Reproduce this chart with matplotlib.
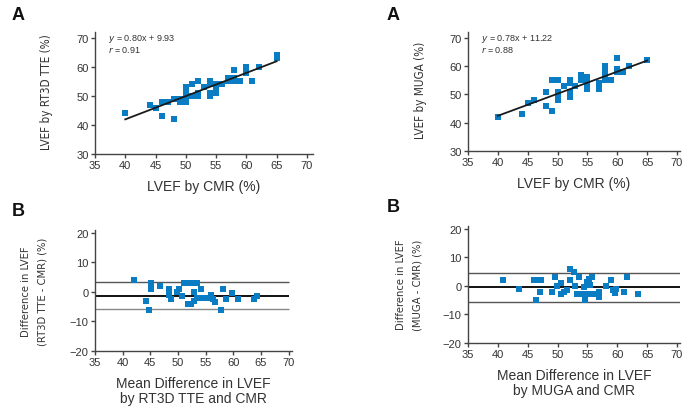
import matplotlib
matplotlib.use("Agg")
import matplotlib.pyplot as plt
from matplotlib import font_manager
from matplotlib.font_manager import FontProperties
import numpy as np

# ---------------- data ----------------
# Panel A (left): LVEF by CMR vs RT3D TTE
cmr_tte = [40, 44, 45, 46, 46, 47, 48, 48, 49, 49, 50, 50, 50, 50, 50, 50, 51, 51, 52, 52, 52,
           53, 54, 54, 54, 54, 55, 55, 55, 55, 56, 57, 57, 58, 58, 58, 59, 60, 60, 61, 62, 65, 65]
tte = [44, 47, 46, 48, 43, 48, 49, 42, 48, 49, 48, 49, 50, 51, 52, 53, 54, 50, 55, 50, 51,
       53, 55, 54, 50, 51, 51, 52, 53, 54, 54, 56, 55, 56, 55, 59, 55, 60, 58, 55, 60, 63, 64]
fit_tte = (0.80, 9.93)
r_tte = 0.91

# Panel A (right): LVEF by CMR vs MUGA
cmr_muga = [40, 44, 45, 46, 48, 48, 49, 49, 50, 50, 50, 50, 50, 51, 52, 52, 52, 52, 52, 53,
            54, 54, 54, 55, 55, 55, 55, 55, 57, 57, 58, 58, 58, 58, 58, 58, 59, 60, 60, 60, 61, 62, 65]
muga = [42, 43, 47, 48, 51, 46, 44, 55, 55, 51, 50, 49, 48, 53, 55, 54, 51, 50, 49, 53,
        57, 56, 55, 56, 55, 54, 53, 52, 54, 52, 60, 59, 58, 57, 56, 55, 55, 63, 59, 58, 58, 60, 62]
fit_muga = (0.78, 11.22)
r_muga = 0.88

# Panel B (left): Bland-Altman RT3D TTE vs CMR
ba_tte_mean = [42, 44.3, 44.8, 45.2, 45.2, 46.8, 48.3, 48.3, 48.7, 49.8, 50.2, 50.7, 51, 51.5, 52,
               52.5, 53, 53.5, 51.8, 52.3, 52.8, 52.8, 54.2, 53.5, 54, 54.5, 55, 55.5, 55.9, 56.4,
               56.6, 57.8, 58.1, 58.7, 59.8, 60.8, 63.7, 64.2]
ba_tte_diff = [4, -3, -6, 3, 1, 2, 1, -1, -2.5, 0, 1, -1.5, 3, 3, 3,
               3, 3, 3, -4, -4, -3, 0, 1, -2, -2, -2, -2, -2, -1, -2.5,
               -3.5, -6, 1, -2.5, -0.5, -2.5, -2.5, -1.5]
ba_tte_lines = [3.4, -1.2, -5.6]   # upper limit, mean, lower limit

# Panel B (right): Bland-Altman MUGA vs CMR
ba_muga_mean = [40.9, 43.6, 46.0, 46.7, 47.3, 47.0, 46.4, 49.1, 49.5, 49.9, 50.5, 50.6, 51.1, 51.6,
                52.0, 52.7, 52.1, 53.0, 53.6, 53.3, 54.0, 54.7, 55.3, 56.0, 56.7, 54.6, 54.5, 54.9,
                55.2, 55.7, 55.4, 57.0, 57.0, 58.1, 58.9, 59.2, 59.6, 59.7, 61.1, 61.6, 63.5]
ba_muga_diff = [2, -1, 2, 2, 2, -2, -5, -2, 3, 0, 1, -3, -2, -1.5,
                6, 5, 2, 0, 3, -3, -3, -3, -3, -3, -3, -5, -0.5, 1.5,
                2.5, 3, 0.5, -4, -2, 0, 2, -1.5, -2.5, -1, -2, 3, -3]
ba_muga_lines = [4.6, -0.5, -5.6]

x_ticks = [35, 40, 45, 50, 55, 60, 65, 70]
a_yticks = [30, 40, 50, 60, 70]
b_yticks = [-20, -10, 0, 10, 20]

# ---------------- style ----------------
names = {f.name for f in font_manager.fontManager.ttflist}
MAIN = "Liberation Sans" if "Liberation Sans" in names else "DejaVu Sans"
plt.rcParams["font.family"] = [MAIN, "DejaVu Sans"]

# look for a genuine condensed sans face for the y-axis labels
cond = None
for f in font_manager.fontManager.ttflist:
    fn = f.fname.lower()
    if "mono" in fn or "serif" in fn and "sans" not in fn:
        continue
    if f.style != "normal" or str(f.weight) not in ("400", "normal", "regular"):
        continue
    if ("sansnarrow" in fn.replace("-", "").replace("_", "") or "sanscondensed" in fn.replace("-", "")
            or "Narrow" in f.name or "Condensed" in f.name):
        if "bold" in fn or "italic" in fn or "oblique" in fn:
            continue
        cond = f
        break
if cond is not None:
    YFONT = FontProperties(fname=cond.fname)
    Y1, Y2 = 8.4, 8.0
else:
    YFONT = FontProperties(family=MAIN)
    Y1, Y2 = 7.9, 8.0

BLUE = "#0A7CC4"
TXT = "#333333"
SPINE = "#444444"

fig = plt.figure(figsize=(6.86, 4.10), dpi=100)
W, H = 686, 410


def add_ax(x0, y0, x1, y1):
    return fig.add_axes([x0 / W, 1 - y1 / H, (x1 - x0) / W, (y1 - y0) / H])


def style(ax, yticks, ylim, xlim):
    for s in ["top", "right"]:
        ax.spines[s].set_visible(False)
    for s in ["left", "bottom"]:
        ax.spines[s].set_color(SPINE)
        ax.spines[s].set_linewidth(1.0)
    ax.set_xticks(x_ticks)
    ax.set_yticks(yticks)
    ax.set_xlim(*xlim)
    ax.set_ylim(*ylim)
    ax.tick_params(direction="out", length=3, width=1.0, color=SPINE,
                   labelsize=8, labelcolor=TXT, pad=1.5)


def ylab(text, size, x_px, y_px, ls=1.8):
    fp = YFONT.copy()
    fp.set_size(size)
    fig.text(x_px / W, 1 - y_px / H, text, fontproperties=fp, color=TXT, rotation=90,
             ha="center", va="center", multialignment="center", linespacing=ls)


# Top-left
ax1 = add_ax(95, 33, 313, 155)
ax1.scatter(cmr_tte, tte, marker="s", s=24, color=BLUE, linewidths=0, zorder=2)
xs = np.array([min(cmr_tte), max(cmr_tte)])
ax1.plot(xs, fit_tte[0] * xs + fit_tte[1], color="#1a1a1a", lw=1.3, zorder=3)
style(ax1, a_yticks, (30, 72), (35, 71))
ax1.text(37.2, 69.8, "$\\it{y}$ = %.2fx + %.2f" % fit_tte, fontsize=6.5, color=TXT, va="center")
ax1.text(37.2, 66.0, "$\\it{r}$ = %.2f" % r_tte, fontsize=6.5, color=TXT, va="center")
ax1.set_xlabel("LVEF by CMR (%)", fontsize=10, color=TXT, labelpad=6)
ylab("LVEF by RT3D TTE (%)", Y1, 47, 92)

# Top-right
ax2 = add_ax(468, 33, 680, 152)
ax2.scatter(cmr_muga, muga, marker="s", s=24, color=BLUE, linewidths=0, zorder=2)
xs = np.array([min(cmr_muga), max(cmr_muga)])
ax2.plot(xs, fit_muga[0] * xs + fit_muga[1], color="#1a1a1a", lw=1.3, zorder=3)
style(ax2, a_yticks, (30, 72), (35, 70.5))
ax2.text(37.2, 69.8, "$\\it{y}$ = %.2fx + %.2f" % fit_muga, fontsize=6.5, color=TXT, va="center")
ax2.text(37.2, 66.0, "$\\it{r}$ = %.2f" % r_muga, fontsize=6.5, color=TXT, va="center")
ax2.set_xlabel("LVEF by CMR (%)", fontsize=10, color=TXT, labelpad=6)
ylab("LVEF by MUGA (%)", Y1, 421, 90)

# Bottom-left
ax3 = add_ax(95, 231, 292, 352)
ax3.scatter(ba_tte_mean, ba_tte_diff, marker="s", s=24, color=BLUE, linewidths=0, zorder=2)
ax3.hlines(ba_tte_lines[0], 35, 70, color="#555555", lw=1.0, zorder=1)
ax3.hlines(ba_tte_lines[1], 35, 70, color="#111111", lw=1.4, zorder=1)
ax3.hlines(ba_tte_lines[2], 35, 70, color="#888888", lw=1.0, zorder=1)
style(ax3, b_yticks, (-20, 21), (35, 70.6))
ax3.set_xlabel("Mean Difference in LVEF\nby RT3D TTE and CMR", fontsize=10, color=TXT,
               labelpad=6, linespacing=1.15)
ylab("Difference in LVEF\n(RT3D TTE - CMR) (%)", Y2, 34, 292)

# Bottom-right
ax4 = add_ax(468, 227, 680, 344)
ax4.scatter(ba_muga_mean, ba_muga_diff, marker="s", s=24, color=BLUE, linewidths=0, zorder=2)
ax4.hlines(ba_muga_lines[0], 35, 70.5, color="#555555", lw=1.0, zorder=1)
ax4.hlines(ba_muga_lines[1], 35, 70.5, color="#111111", lw=1.4, zorder=1)
ax4.hlines(ba_muga_lines[2], 35, 70.5, color="#555555", lw=1.0, zorder=1)
style(ax4, b_yticks, (-20, 21), (35, 70.5))
ax4.set_xlabel("Mean Difference in LVEF\nby MUGA and CMR", fontsize=10, color=TXT,
               labelpad=6, linespacing=1.15)
ylab("Difference in LVEF\n(MUGA - CMR) (%)", Y2, 409, 285)

# Panel letters
for (px, py, t) in [(12, 16, "A"), (387, 16, "A"), (12, 212, "B"), (387, 208, "B")]:
    fig.text(px / W, 1 - py / H, t, fontsize=13, fontweight="bold", color="#111111",
             va="center", ha="left")

fig.savefig("out.png", dpi=100)
